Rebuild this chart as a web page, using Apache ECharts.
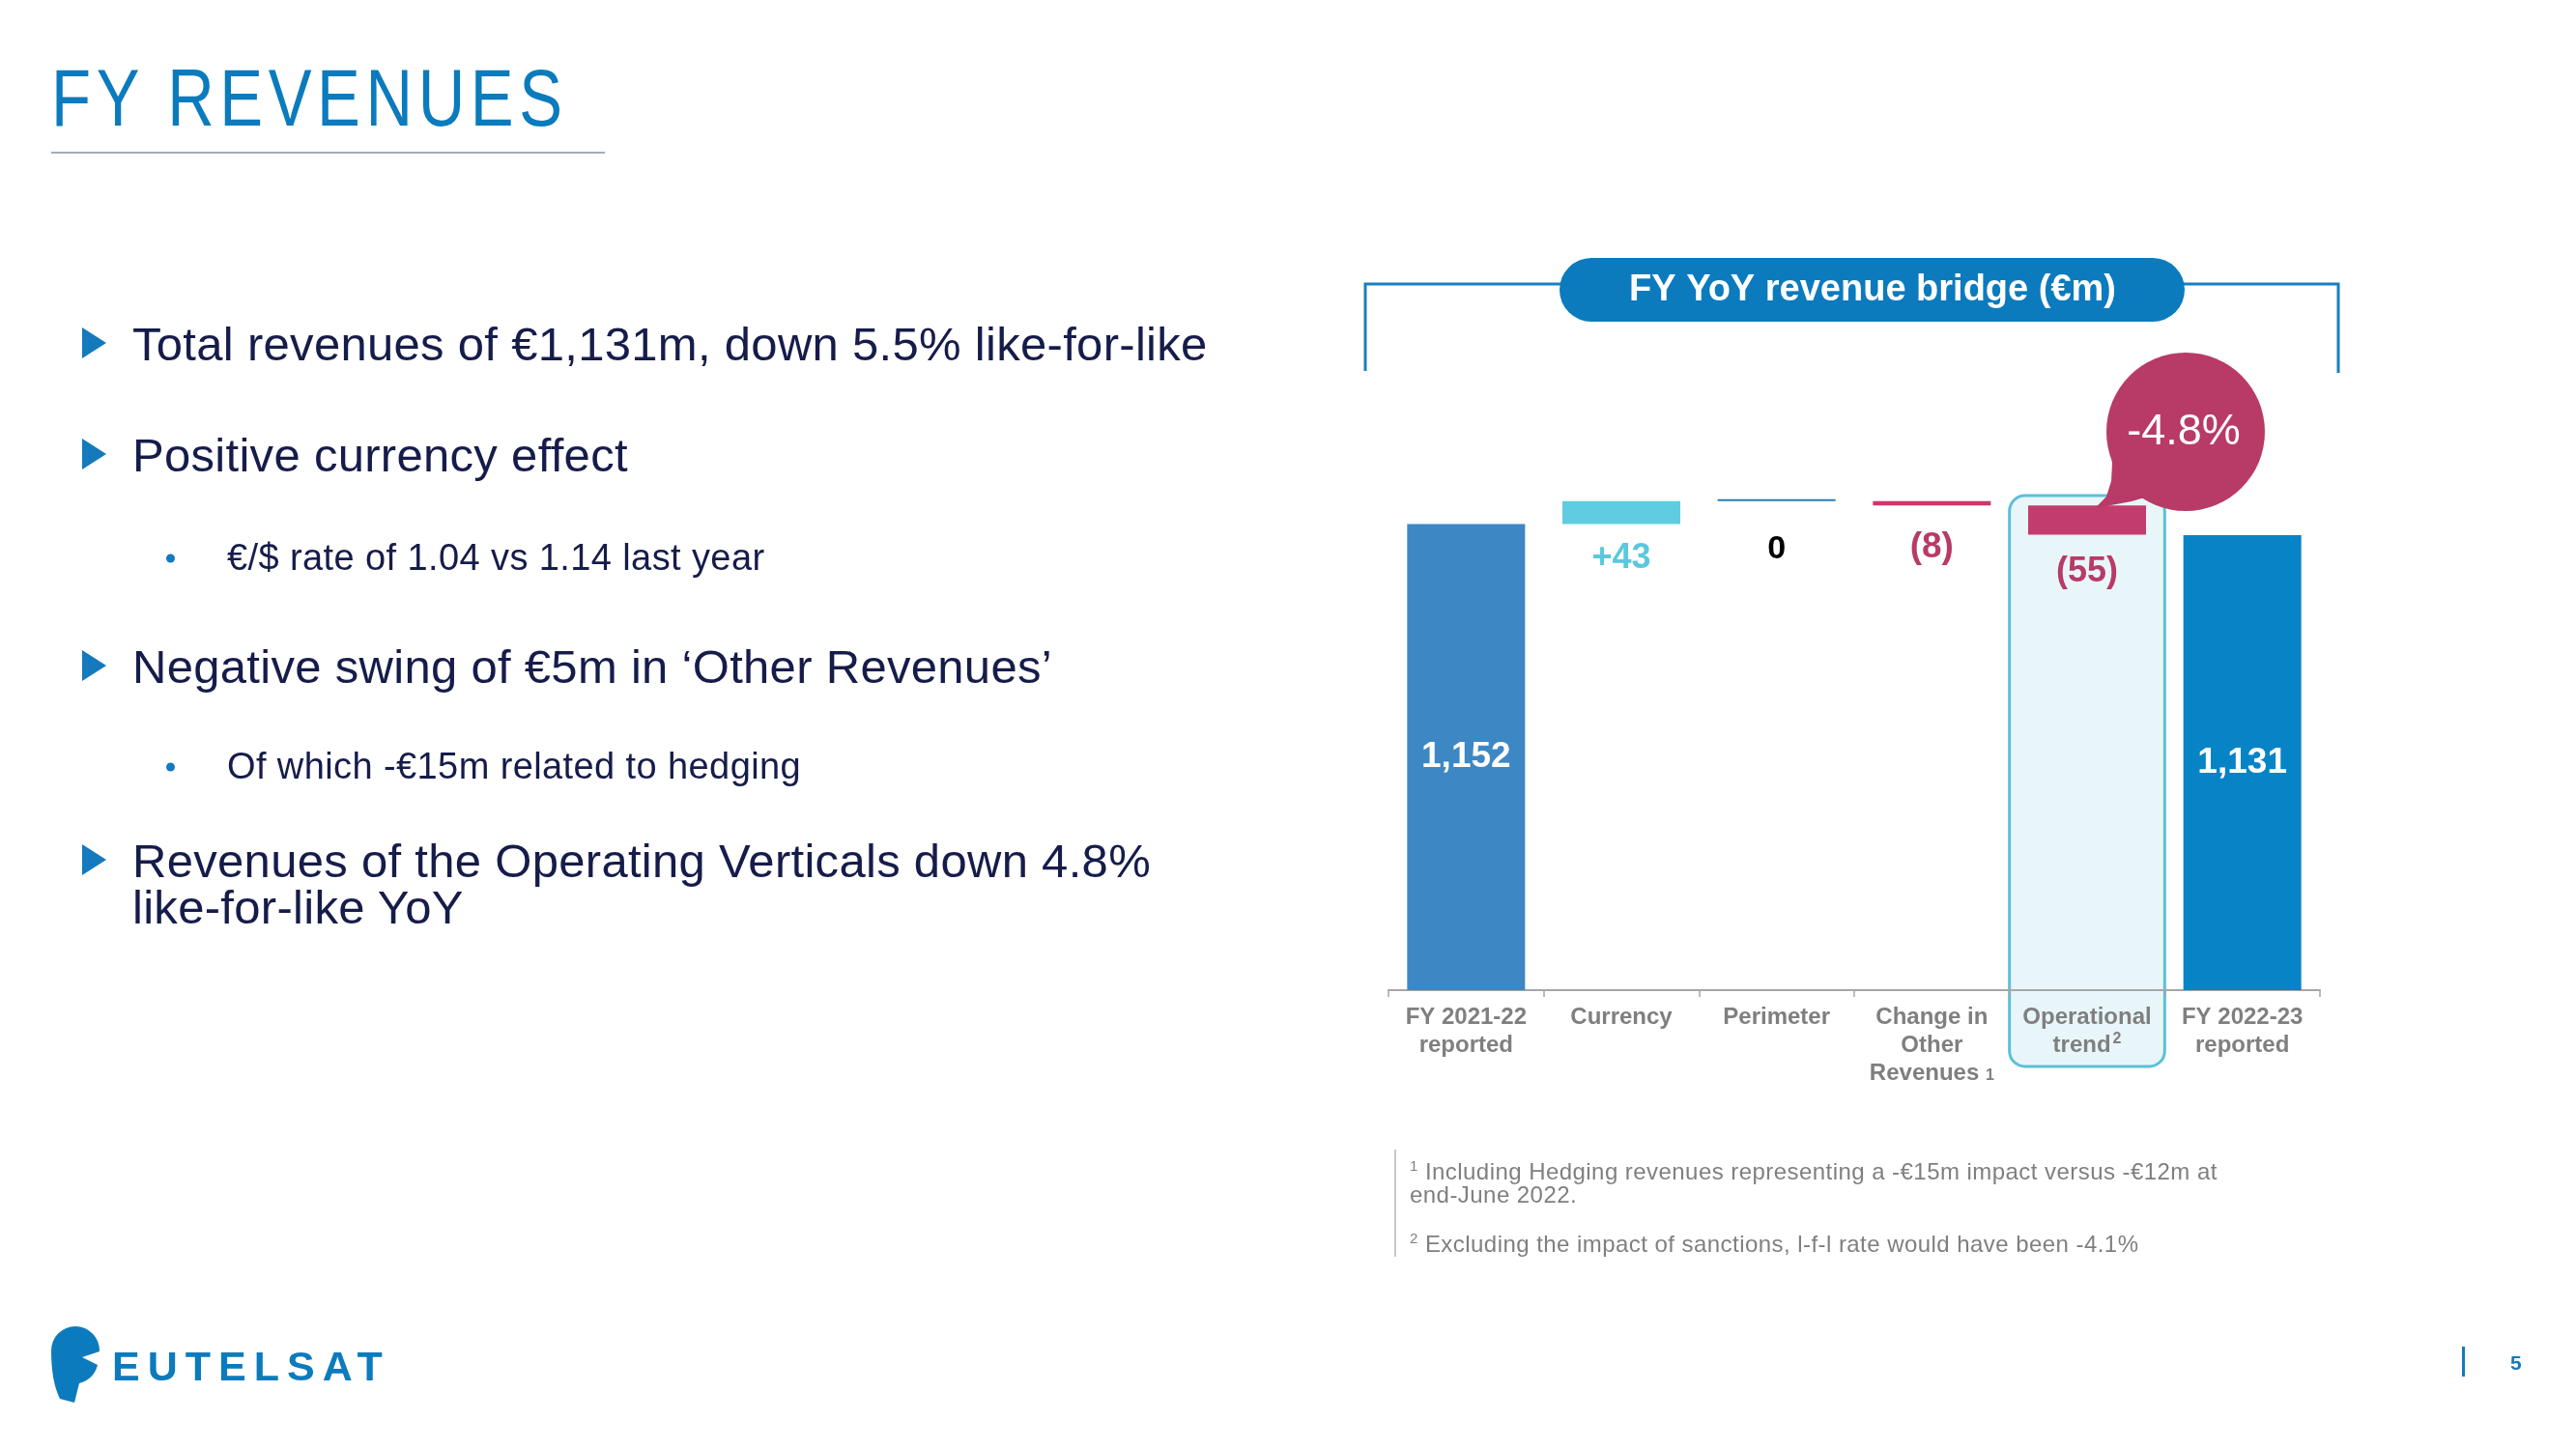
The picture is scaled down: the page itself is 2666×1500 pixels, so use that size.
<!DOCTYPE html>
<html>
<head>
<meta charset="utf-8">
<script src="https://cdn.jsdelivr.net/npm/echarts@6/dist/echarts.min.js"></script>
<style>
  html, body { margin: 0; padding: 0; background: #ffffff; }
  #page { position: relative; width: 2666px; height: 1500px; overflow: hidden;
          font-family: 'Liberation Sans', Arial, sans-serif; }
  #chart { position: absolute; left: 0; top: 0; width: 2666px; height: 1500px; }
  .t { position: absolute; white-space: nowrap; line-height: 1; transform: translateY(-50%); }
  .main { font-size: 49px; color: #161c4a; left: 137px; letter-spacing: 0.3px; }
  .sub { font-size: 38px; color: #161c4a; left: 235px; letter-spacing: 0.4px; }
  .tri { position: absolute; left: 85px; width: 0; height: 0;
         border-left: 25px solid #1479bd; border-top: 16px solid transparent; border-bottom: 16px solid transparent;
         transform: translateY(-50%); }
  .dot { position: absolute; left: 172px; width: 9px; height: 9px; border-radius: 50%; background: #1479bd;
         transform: translateY(-50%); }
  .fn { font-size: 24px; color: #7f7f7f; left: 1459px; letter-spacing: 0.45px; }
  .fn sup { font-size: 15px; vertical-align: 9px; }
</style>
</head>
<body>
<div id="page">
  <div id="chart"></div>

  <div class="t" style="left:53px;top:101px;font-size:84px;letter-spacing:7px;color:#0b7bbd;transform:translateY(-50%) scaleX(0.8);transform-origin:0 50%;">FY REVENUES</div>
  <div style="position:absolute;left:53px;top:157px;width:573px;height:2px;background:#9fb0ba;"></div>

  <div class="tri" style="top:355px;"></div>
  <div class="t main" style="top:356px;">Total revenues of €1,131m, down 5.5% like-for-like</div>

  <div class="tri" style="top:470px;"></div>
  <div class="t main" style="top:471px;">Positive currency effect</div>

  <div class="dot" style="top:578px;"></div>
  <div class="t sub" style="top:577px;">€/$ rate of 1.04 vs 1.14 last year</div>

  <div class="tri" style="top:689px;"></div>
  <div class="t main" style="top:690px;">Negative swing of €5m in ‘Other Revenues’</div>

  <div class="dot" style="top:794px;"></div>
  <div class="t sub" style="top:793px;">Of which -€15m related to hedging</div>

  <div class="tri" style="top:890px;"></div>
  <div class="t main" style="top:891px;">Revenues of the Operating Verticals down 4.8%</div>
  <div class="t main" style="top:939px;">like-for-like YoY</div>

  <div style="position:absolute;left:1443px;top:1190px;width:2px;height:111px;background:#c8c8c8;"></div>
  <div class="t fn" style="top:1212px;"><sup>1</sup> Including Hedging revenues representing a -€15m impact versus -€12m at</div>
  <div class="t fn" style="top:1237px;">end-June 2022.</div>
  <div class="t fn" style="top:1287px;"><sup>2</sup> Excluding the impact of sanctions, l-f-l rate would have been -4.1%</div>

  <svg style="position:absolute;left:0;top:0;" width="130" height="1500">
    <path d="M 78 1373 A 25 25 0 0 1 103 1399 L 85 1405 L 101 1413 Q 97 1428 82 1432 L 77 1452 L 62 1448 Q 53 1430 53 1398 A 25 25 0 0 1 78 1373 Z" fill="#0b7bbd"/>
  </svg>
  <div class="t" style="left:116px;top:1408px;font-size:62px;font-weight:bold;color:#0b7bbd;font-variant:small-caps;letter-spacing:8px;">eutelsat</div>

  <div style="position:absolute;left:2548px;top:1394px;width:3px;height:31px;background:#1479bd;"></div>
  <div class="t" style="left:2598px;top:1410px;font-size:21px;font-weight:bold;color:#1479bd;">5</div>
</div>

<script>
// ---------- data ----------
const categories = ['FY 2021-22\nreported', 'Currency', 'Perimeter', 'Change in\nOther\nRevenues', 'Operational\ntrend', 'FY 2022-23\nreported'];
const noteMarks = ['', '', '', '1', '2', ''];
const values = [1152, 43, 0, -8, -55, 1131];
const isTotal = [true, false, false, false, false, true];
const valueLabels = ['1,152', '+43', '0', '(8)', '(55)', '1,131'];
const highlightIndex = 4;
const bubbleText = '-4.8%';
const chartTitle = 'FY YoY revenue bridge (€m)';

// ---------- styles ----------
const FONT = "'Liberation Sans', Arial, sans-serif";
const barColors = ['#3d87c4', '#5ecde2', '#2b7bb5', '#d2346b', '#c23d6d', '#0784c6'];
const labelColors = ['#ffffff', '#5bc8de', '#000000', '#b83a66', '#b83a66', '#ffffff'];
const labelSizes = [37, 36, 34, 37, 36, 37];
const labelDist = [0, 18, 33, 25, 21, 0];

// waterfall geometry derived from values
const base = [], size = [];
let running = 0;
values.forEach((v, i) => {
  if (isTotal[i]) { base.push(0); size.push(v); running = v; }
  else {
    if (v >= 0) { base.push(running); size.push(v); }
    else { base.push(running + v); size.push(-v); }
    running += v;
  }
});

const chart = echarts.init(document.getElementById('chart'), null, { renderer: 'canvas' });

const option = {
  animation: false,
  grid: { left: 1437, right: 265, top: 461, bottom: 475, containLabel: false },
  xAxis: {
    type: 'category',
    data: categories,
    axisLine: { lineStyle: { color: '#a6a6a6', width: 2 } },
    axisTick: { show: true, length: 7, interval: 0, lineStyle: { color: '#a6a6a6', width: 1.5 } },
    axisLabel: {
      interval: 0, margin: 14, color: '#7f7f7f', fontSize: 24, fontWeight: 'bold',
      lineHeight: 29, fontFamily: FONT,
      formatter: (v, i) => noteMarks[i] ? v + (i === 3 ? ' {n|' : '{s|') + noteMarks[i] + '}' : v,
      rich: {
        n: { fontSize: 16, color: '#7f7f7f', fontFamily: FONT, fontWeight: 'bold', padding: [4, 0, 0, 0] },
        s: { fontSize: 16, color: '#7f7f7f', fontFamily: FONT, fontWeight: 'bold', padding: [0, 0, 14, 2] }
      }
    }
  },
  yAxis: { type: 'value', min: 275, max: 1300, show: false, splitLine: { show: false } },
  series: [
    {
      type: 'bar', stack: 'w', barWidth: 122, silent: true,
      itemStyle: { color: 'rgba(0,0,0,0)' },
      data: base
    },
    {
      type: 'bar', stack: 'w', barWidth: 122, barMinHeight: 2,
      data: size.map((s, i) => ({
        value: s,
        itemStyle: { color: barColors[i] },
        label: {
          show: true,
          position: isTotal[i] ? 'inside' : 'bottom',
          distance: labelDist[i],
          formatter: valueLabels[i],
          color: labelColors[i],
          fontSize: labelSizes[i],
          fontWeight: 'bold',
          fontFamily: FONT
        }
      }))
    }
  ]
};
chart.setOption(option);

// decorations positioned from the chart's own scales
const catW = (2666 - 1437 - 265) / categories.length;
const hx = chart.convertToPixel({ xAxisIndex: 0 }, highlightIndex);
const opTop = chart.convertToPixel({ yAxisIndex: 0 }, base[highlightIndex] + size[highlightIndex]);

chart.setOption({
  graphic: [
    { type: 'rect', z: -5, silent: true,
      shape: { x: hx - catW / 2, y: 513, width: catW, height: 591, r: 16 },
      style: { fill: '#e8f6fa', stroke: '#5bc0d8', lineWidth: 3 } },
    // bracket
    { type: 'polyline', z: 5, silent: true,
      shape: { points: [[1413, 384], [1413, 294], [1620, 294]] },
      style: { stroke: '#1a7fbf', lineWidth: 3, fill: null } },
    { type: 'polyline', z: 5, silent: true,
      shape: { points: [[2255, 294], [2420, 294], [2420, 386]] },
      style: { stroke: '#1a7fbf', lineWidth: 3, fill: null } },
    // title pill
    { type: 'rect', z: 6, silent: true,
      shape: { x: 1614, y: 267, width: 647, height: 66, r: 33 },
      style: { fill: '#0b7bbd' } },
    { type: 'text', z: 7, silent: true,
      style: { text: chartTitle, x: 1938, y: 301, fill: '#ffffff', fontSize: 38, fontWeight: 'bold',
               fontFamily: FONT, align: 'center', verticalAlign: 'middle' } },
    // bubble tail + body
    { type: 'polygon', z: 10, silent: true,
      shape: { points: [[2184, 458], [2186, 480], [2185, 498], [2180, 514], [hx + 8, opTop + 3],
                        [2190, 522], [2206, 519], [2230, 512]] },
      style: { fill: '#b83a66' } },
    { type: 'circle', z: 10, silent: true,
      shape: { cx: 2262, cy: 447, r: 82 },
      style: { fill: '#b83a66' } },
    { type: 'text', z: 11, silent: true,
      style: { text: bubbleText, x: 2260, y: 448, fill: '#ffffff', fontSize: 45,
               fontFamily: FONT, align: 'center', verticalAlign: 'middle' } }
  ]
});
</script>
</body>
</html>
